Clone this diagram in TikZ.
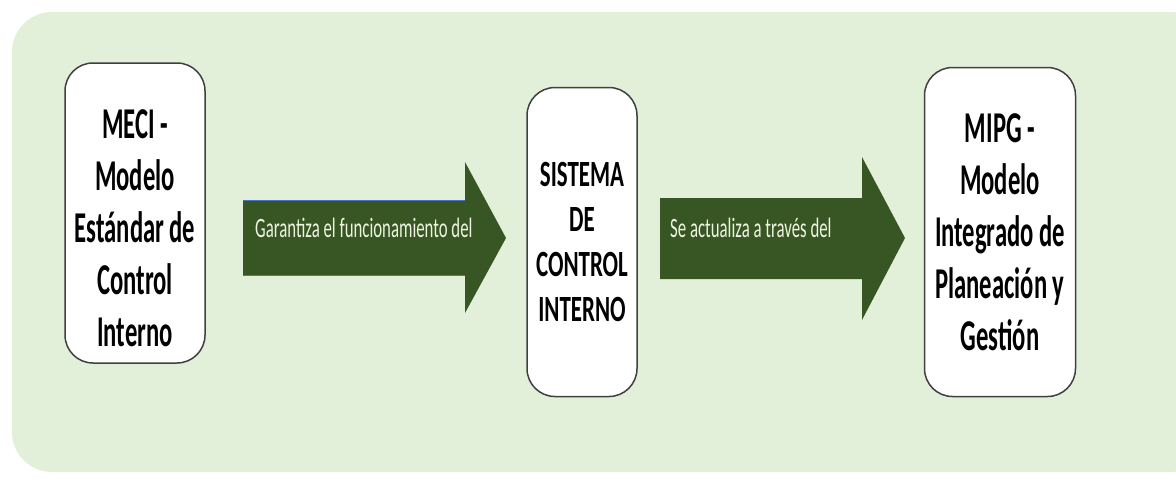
\documentclass[tikz,border=0pt]{standalone}
\usepackage{fontspec}
\setmainfont{Carlito}
\newfontfamily\boxfont{Carlito}[FakeStretch=0.56]
\newfontfamily\midfont{Carlito}[FakeStretch=0.62]
\newfontfamily\arrowfont{Carlito}[FakeStretch=0.6]
\definecolor{bggreen}{HTML}{E2EFD9}
\definecolor{arrowgreen}{HTML}{375623}
\definecolor{edgeblue}{HTML}{4472C4}
\definecolor{arrowtext}{HTML}{EEF3E2}
\tikzset{
  stage/.style={draw=black!75, line width=1.5pt, fill=white, rounded corners=28pt,
    inner sep=0pt},
  stagetext/.style={align=center, inner sep=0pt,
    font=\boxfont\bfseries\fontsize{44}{52}\selectfont},
  blockarrow/.style={fill=arrowgreen},
  arrowlabel/.style={anchor=base west, inner sep=0pt, text=arrowtext,
    font=\arrowfont\fontsize{28}{32}\selectfont}
}

\begin{document}
\begin{tikzpicture}[x=1pt,y=-1pt]
  \useasboundingbox (0,0) rectangle (1176,485);
  \fill[bggreen, rounded corners=40pt] (12,12) rectangle (1210,472);
  %
  \node[stage, minimum width=140pt, minimum height=300pt] (meci) at (135,213) {};
  \node[stagetext, yshift=-15pt] (meci-text) at (meci)
    {MECI -\\Modelo\\Estándar de\\Control\\Interno};
  \node[stage, minimum width=110pt, minimum height=309pt] (sci) at (582,242) {};
  \node[stagetext, font=\midfont\bfseries\fontsize{37}{45}\selectfont] (sci-text) at (sci)
    {SISTEMA\\DE\\CONTROL\\INTERNO};
  \node[stage, minimum width=151pt, minimum height=329pt] (mipg) at (1000,232) {};
  \node[stagetext] (mipg-text) at (mipg)
    {MIPG -\\Modelo\\Integrado de\\Planeación y\\Gestión};
  %
  \fill[blockarrow] (243,200) -- ++(222,0) -- ++(0,-38) -- ++(41,76) -- ++(-41,75)
    -- ++(0,-38) -- ++(-222,0) -- cycle;
  \draw[edgeblue, line width=1pt] (243,200) -- ++(222,0) (243,275) -- ++(222,0);
  \node[arrowlabel] (garantiza) at (255,237) {Garantiza el funcionamiento del};
  %
  \fill[blockarrow] (660,198) -- ++(202,0) -- ++(0,-41) -- ++(43,81) -- ++(-43,82)
    -- ++(0,-41) -- ++(-202,0) -- cycle;
  \node[arrowlabel] (actualiza) at (670,237) {Se actualiza a través del};
  %
\end{tikzpicture}
\end{document}
